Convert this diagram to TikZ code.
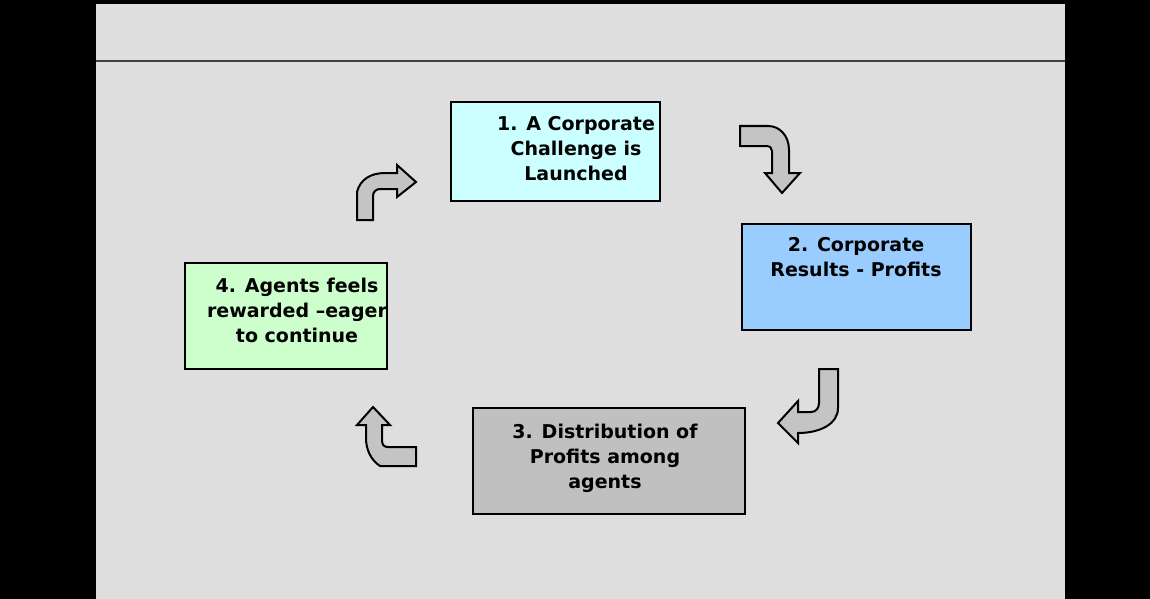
\documentclass[tikz,border=0pt]{standalone}
\usepackage{fontspec}
\setmainfont{DejaVu Sans}
\usepackage{xcolor}
\usepackage{tikz}
\usetikzlibrary{shapes}
\definecolor{panelgray}{HTML}{DEDEDE}
\definecolor{arrowgray}{HTML}{C4C4C4}
\definecolor{launchcyan}{HTML}{CCFFFF}
\definecolor{resultblue}{HTML}{99CCFF}
\definecolor{sharegray}{HTML}{C0C0C0}
\definecolor{rewardgreen}{HTML}{CCFFCC}
\tikzset{
  main node/.style={rectangle,draw,line width=2pt,inner sep=0pt,anchor=north west},
  label node/.style={align=center,inner sep=0pt,font=\bfseries\fontsize{19}{25}\selectfont},
  turn arrow/.style={draw,fill=arrowgray,line width=2pt,line join=miter}
}

\begin{document}
\begin{tikzpicture}[x=1pt,y=-1pt]
  \useasboundingbox (0,0) rectangle (1150,599);
  \fill[black] (0,0) rectangle (1150,599);
  \fill[panelgray] (96,4) rectangle (1065,599);
  \draw[line width=2pt,black!75] (96,61) -- (1065,61);

  % the four steps
  \node[main node,fill=launchcyan,minimum width=209pt,minimum height=99pt] (1) at (450,101) {};
  \node[main node,fill=resultblue,minimum width=229pt,minimum height=106pt] (2) at (741,223) {};
  \node[main node,fill=sharegray,minimum width=272pt,minimum height=106pt] (3) at (472,407) {};
  \node[main node,fill=rewardgreen,minimum width=202pt,minimum height=106pt] (4) at (184,262) {};

  \node[label node] (t1) at (576,149) {1. A Corporate\\Challenge is\\Launched};
  \node[label node] (t2) at (856,257) {2. Corporate\\Results - Profits};
  \node[label node] (t3) at (605,458) {3. Distribution of\\Profits among\\agents};
  \node[label node] (t4) at (297,310) {4. Agents feels\\rewarded --eager\\to continue};

  % bent arrows between the steps
  \draw[turn arrow] (740,126) -- (768,126) .. controls (780,126) and (789,136) .. (789,150)
    -- (789,173) -- (800,173) -- (782,193) -- (765,173) -- (772,173) -- (772,151)
    .. controls (772,148) and (770,146) .. (766,146) -- (740,146) -- cycle;
  \draw[turn arrow] (819,369) -- (838,369) -- (838,408) .. controls (838,424) and (820,433) .. (798,433)
    -- (798,443) -- (778,423) -- (798,401) -- (798,412) -- (811,412)
    .. controls (816,412) and (819,408) .. (819,403) -- cycle;
  \draw[turn arrow] (416,447) -- (416,466) -- (380,466) .. controls (371,460) and (366,450) .. (366,438)
    -- (366,425) -- (357,425) -- (373,407) -- (390,425) -- (382,425) -- (382,440)
    .. controls (382,445) and (384,447) .. (388,447) -- cycle;
  \draw[turn arrow] (357,220) -- (357,192) .. controls (360,180) and (370,173) .. (385,173)
    -- (397,173) -- (397,165) -- (416,182) -- (397,197) -- (397,189) -- (380,189)
    .. controls (376,189) and (373,192) .. (373,196) -- (373,220) -- cycle;
\end{tikzpicture}
\end{document}
